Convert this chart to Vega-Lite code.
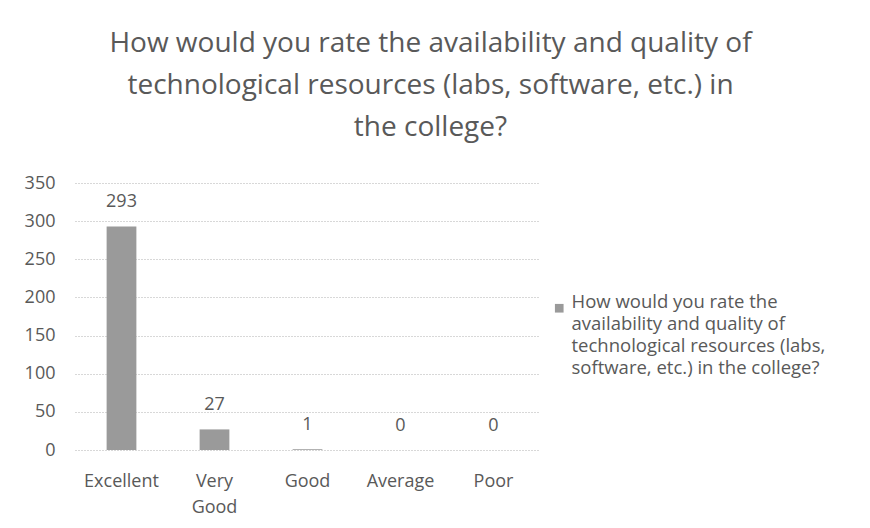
{
  "$schema": "https://vega.github.io/schema/vega-lite/v6.json",
  "width": 465,
  "height": 267,
  "autosize": {"type": "none"},
  "padding": {"left": 75, "top": 183, "right": 330, "bottom": 78},
  "background": "white",
  "title": {
    "text": ["How would you rate the availability and quality of", "technological resources (labs, software, etc.) in", "the college?"],
    "fontSize": 28,
    "font": "Open Sans",
    "fontWeight": "normal",
    "color": "#595959",
    "lineHeight": 42,
    "anchor": "middle",
    "dx": 123,
    "offset": 32
  },
  "data": {
    "values": [
      {"rating": "Excellent", "count": 293, "series": "How would you rate the availability and quality of technological resources (labs, software, etc.) in the college?"},
      {"rating": "Very Good", "count": 27, "series": "How would you rate the availability and quality of technological resources (labs, software, etc.) in the college?"},
      {"rating": "Good", "count": 1, "series": "How would you rate the availability and quality of technological resources (labs, software, etc.) in the college?"},
      {"rating": "Average", "count": 0, "series": "How would you rate the availability and quality of technological resources (labs, software, etc.) in the college?"},
      {"rating": "Poor", "count": 0, "series": "How would you rate the availability and quality of technological resources (labs, software, etc.) in the college?"}
    ]
  },
  "encoding": {
    "x": {
      "field": "rating", "type": "nominal", "sort": null,
      "scale": {"paddingInner": 0.68, "paddingOuter": 0.34},
      "axis": {
        "title": null, "labelAngle": 0, "domain": false, "ticks": false,
        "labelFontSize": 18, "labelFont": "Open Sans", "labelColor": "#595959",
        "labelPadding": 22,
        "labelExpr": "datum.label == 'Very Good' ? ['Very', 'Good'] : datum.label",
        "labelLineHeight": 26
      }
    },
    "y": {
      "field": "count", "type": "quantitative",
      "scale": {"domain": [0, 350]},
      "axis": {
        "title": null, "values": [0, 50, 100, 150, 200, 250, 300, 350],
        "domain": false, "ticks": false,
        "labelFontSize": 18, "labelFont": "Open Sans", "labelColor": "#595959",
        "labelPadding": 20,
        "grid": true, "gridColor": "#b0b0b0", "gridDash": [1, 2], "gridWidth": 1
      }
    }
  },
  "layer": [
    {
      "mark": {"type": "bar", "color": "#9a9a9a"},
      "encoding": {
        "color": {
          "field": "series", "type": "nominal",
          "scale": {"range": ["#9a9a9a"]},
          "legend": {
            "title": null, "orient": "none", "legendX": 475, "legendY": 116,
            "symbolType": "square", "symbolSize": 75, "symbolOpacity": 1,
            "labelFontSize": 18.5, "labelFont": "Open Sans", "labelColor": "#595959",
            "labelLimit": 400, "labelOffset": 3,
            "labelExpr": "['How would you rate the', 'availability and quality of', 'technological resources (labs,', 'software, etc.) in the college?']",
            "labelBaseline": "alphabetic"
          }
        }
      }
    },
    {
      "mark": {"type": "text", "dy": -24, "fontSize": 18, "font": "Open Sans", "color": "#595959"},
      "encoding": {"text": {"field": "count", "type": "quantitative"}}
    }
  ],
  "config": {
    "view": {"stroke": null},
    "style": {"guide-label": {"lineHeight": 22}}
  }
}
